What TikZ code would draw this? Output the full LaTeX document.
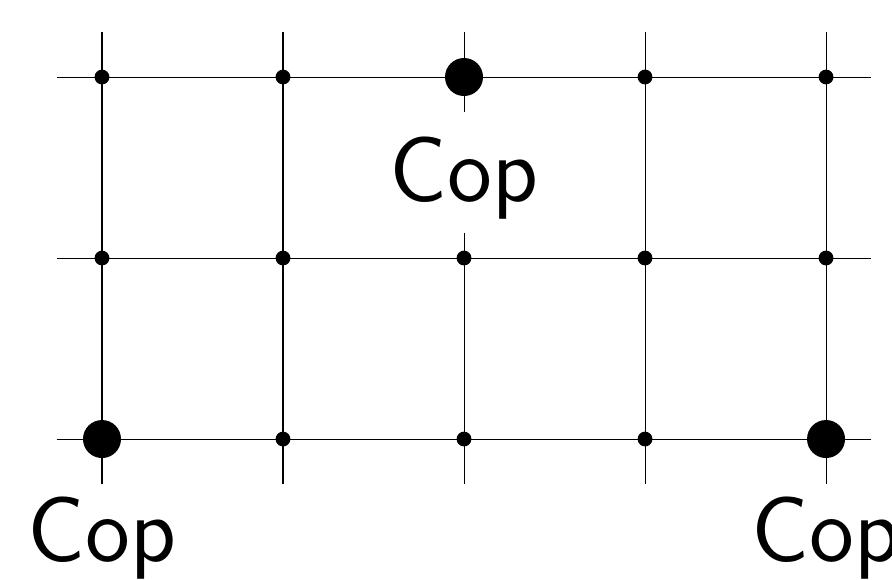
\documentclass[tikz,border=0pt]{standalone}
\usepackage{tikz}
\usetikzlibrary{positioning,calc}

\tikzset{
    gridline/.style={line width=0.16pt, black},
    smalldot/.style={fill=black},
    bigdot/.style={fill=black},
    coplabel/.style={font=\Large\sffamily, anchor=base, inner sep=0pt},
    coverlabel/.style={coplabel, fill=white, text height=0.492cm, text depth=0.177cm}
}

\begin{document}
\begin{tikzpicture}
    \useasboundingbox (-0.5635,-0.7735) rectangle (4.3646,2.4254);

    % --- grid lines ---
    \foreach \y in {0,1,2}{
        \draw[gridline] (-0.25,\y) -- (4.25,\y);
    }
    \foreach \x in {0,1,2,3,4}{
        \draw[gridline] (\x,-0.25) -- (\x,2.25);
    }

    % --- grid points ---
    \foreach \x in {0,1,2,3,4}{
        \foreach \y in {0,1,2}{
            \coordinate (p-\x-\y) at (\x,\y);
            \fill[smalldot] (p-\x-\y) circle (0.041);
        }
    }

    % --- cops ---
    \foreach \pos in {p-0-0,p-2-2,p-4-0}{
        \fill[bigdot] (\pos) circle (0.105);
    }
    \node[coplabel] (cop1) at ($(p-0-0)+(0,-0.674)$) {Cop};
    \node[coverlabel] (cop2) at ($(p-2-2)+(0,-0.685)$) {Cop};
    \node[coplabel] (cop3) at ($(p-4-0)+(0,-0.674)$) {Cop};
\end{tikzpicture}
\end{document}
